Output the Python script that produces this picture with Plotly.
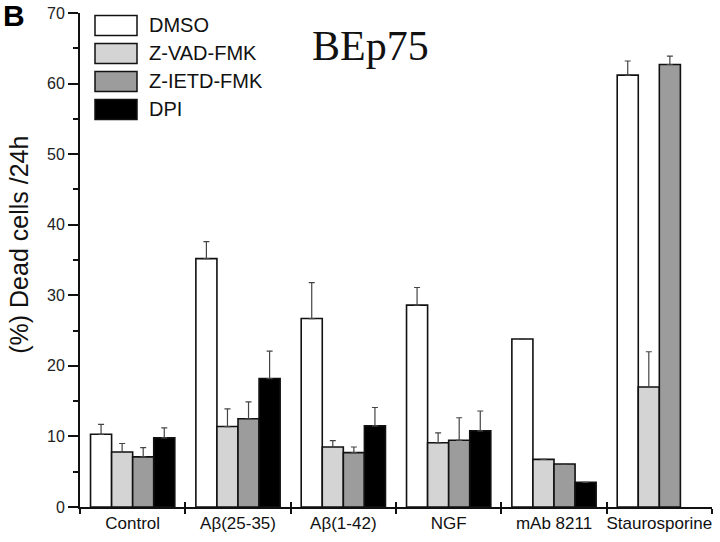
import plotly.graph_objects as go

categories = ["Control", "Aβ(25-35)", "Aβ(1-42)", "NGF", "mAb 8211", "Staurosporine"]
series_names = ["DMSO", "Z-VAD-FMK", "Z-IETD-FMK", "DPI"]

dmso = [10.3, 35.2, 26.7, 28.6, 23.8, 61.2]
dmso_err = [1.4, 2.4, 5.1, 2.5, 0, 2.0]
zvad = [7.8, 11.4, 8.5, 9.1, 6.75, 17.0]
zvad_err = [1.2, 2.5, 0.9, 1.4, 0, 5.0]
zietd = [7.1, 12.5, 7.7, 9.45, 6.1, 62.7]
zietd_err = [1.3, 2.4, 0.8, 3.2, 0, 1.2]
dpi = [9.8, 18.2, 11.5, 10.8, 3.5, None]
dpi_err = [1.4, 3.9, 2.6, 2.8, 0, 0]

y_ticks = [0, 10, 20, 30, 40, 50, 60, 70]

colors = ["#ffffff", "#d4d4d4", "#9c9c9c", "#000000"]
values = [dmso, zvad, zietd, dpi]
errors = [dmso_err, zvad_err, zietd_err, dpi_err]

W, H = 720, 542
L, R, T, B = 80, 8, 13, 34.5
pw, ph = W - L - R, H - T - B

def px(xp):
    return (xp - L) / pw

def py(yp):
    return (H - B - yp) / ph

fig = go.Figure()
for name, vals, errs, col in zip(series_names, values, errors, colors):
    fig.add_trace(go.Bar(
        x=categories, y=vals, name=name,
        marker=dict(color=col, line=dict(color="#111111", width=1.6)),
        error_y=dict(type="data", symmetric=False, array=errs,
                     arrayminus=[0] * len(errs), color="#444444",
                     thickness=1.2, width=3),
        showlegend=False,
    ))

# boundary tick overlay (inside ticks so that separators cross the axis)
fig.add_trace(go.Scatter(x=[None], y=[None], xaxis="x2", showlegend=False))

shapes = []
annotations = []
for i, (name, col) in enumerate(zip(series_names, colors)):
    cy = 25.5 + 28 * i
    shapes.append(dict(type="rect", xref="paper", yref="paper",
                       x0=px(95), x1=px(137), y0=py(cy + 10), y1=py(cy - 10),
                       fillcolor=col, line=dict(color="#111111", width=1.5)))
    annotations.append(dict(text=name, xref="paper", yref="paper",
                            x=px(147), y=py(cy), xanchor="left", yanchor="middle",
                            showarrow=False,
                            font=dict(family="Liberation Sans", size=20, color="#111111")))

annotations.append(dict(text="BEp75", xref="paper", yref="paper",
                        x=px(370), y=py(46), xanchor="center", yanchor="middle",
                        showarrow=False,
                        font=dict(family="Liberation Serif", size=42, color="#111111")))
annotations.append(dict(text="<b>B</b>", xref="paper", yref="paper",
                        x=px(13.5), y=py(16), xanchor="center", yanchor="middle",
                        showarrow=False,
                        font=dict(family="Liberation Sans", size=30, color="#000000")))
annotations.append(dict(text="(%) Dead cells /24h", xref="paper", yref="paper",
                        x=px(19), y=py(245), xanchor="center", yanchor="middle",
                        textangle=-90, showarrow=False,
                        font=dict(family="Liberation Sans", size=25, color="#111111")))

fig.update_layout(
    width=W, height=H,
    margin=dict(l=L, r=R, t=T, b=B, autoexpand=False),
    paper_bgcolor="white", plot_bgcolor="white",
    barmode="group", bargap=0.2, bargroupgap=0,
    shapes=shapes, annotations=annotations,
    xaxis=dict(type="category", range=[-0.5, 5.5], showline=True,
               linecolor="#111111", linewidth=2, ticks="outside",
               tickson="boundaries", ticklen=5, tickwidth=2, tickcolor="#111111",
               tickangle=0,
               tickfont=dict(family="Liberation Sans", size=17, color="#111111"),
               showgrid=False, zeroline=False, fixedrange=True),
    xaxis2=dict(overlaying="x", anchor="y", range=[-0.5, 5.5],
                tickvals=[-0.5, 0.5, 1.5, 2.5, 3.5, 4.5, 5.5],
                ticks="inside", ticklen=5, tickwidth=2, tickcolor="#111111",
                showticklabels=False, showline=False, showgrid=False,
                zeroline=False, side="bottom"),
    yaxis=dict(range=[0, 70], tickvals=y_ticks, showline=True,
               linecolor="#111111", linewidth=2, ticks="outside",
               ticklen=10, tickwidth=1.5, tickcolor="#111111",
               minor=dict(dtick=5, ticks="outside", ticklen=5, tickwidth=1.5,
                          tickcolor="#111111", showgrid=False),
               tickfont=dict(family="Liberation Sans", size=16, color="#222222"),
               showgrid=False, zeroline=False),
)

fig.write_html("out.html", config={"displayModeBar": False},
               post_script="document.body.style.margin='0';document.body.style.overflow='hidden';")
